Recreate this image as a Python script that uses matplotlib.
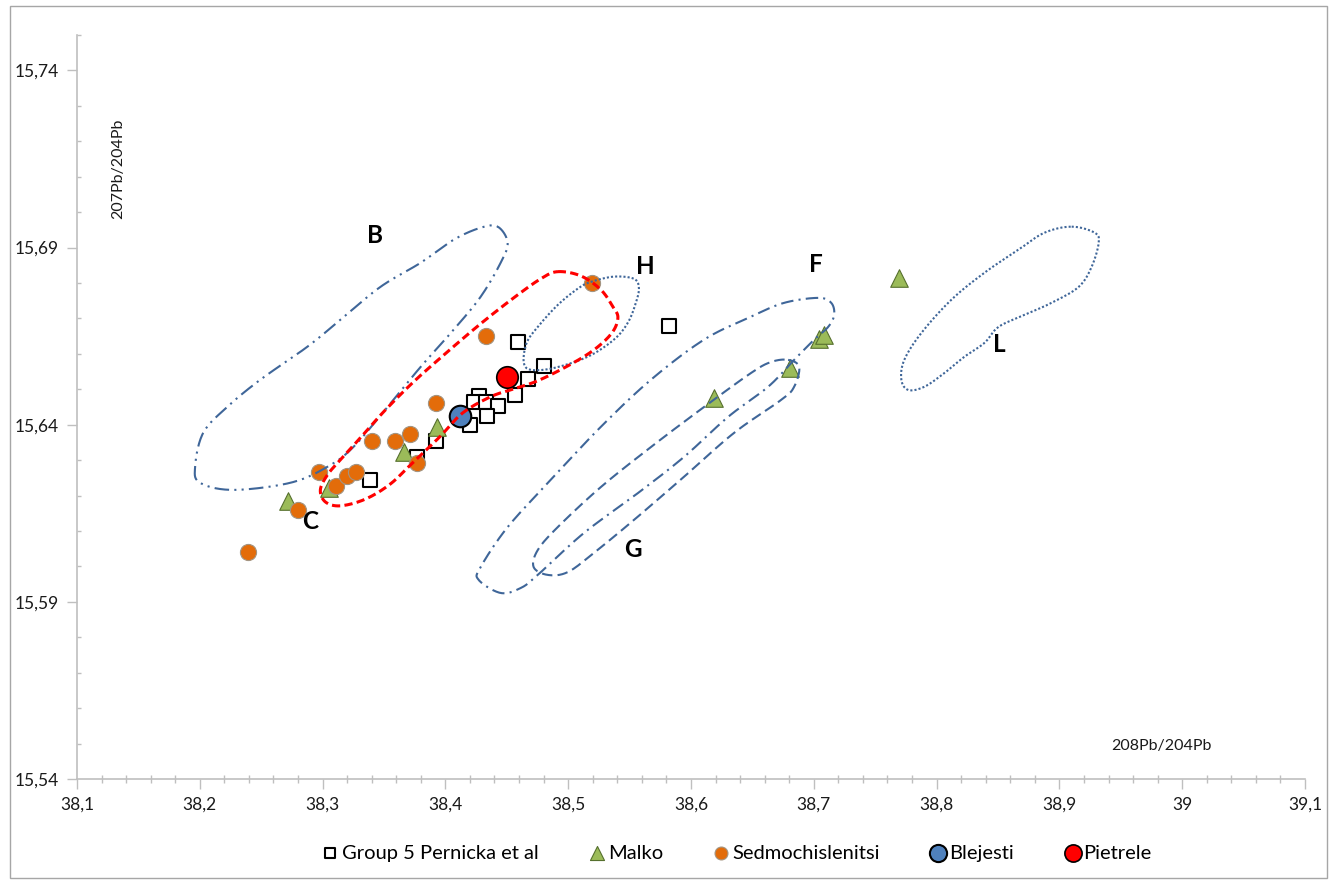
import numpy as np
import matplotlib.pyplot as plt
from matplotlib.ticker import MultipleLocator, FuncFormatter
from matplotlib.patches import Rectangle

plt.rcParams['font.family'] = ['Lato', 'DejaVu Sans']

# --- measured samples: 208Pb/204Pb (x), 207Pb/204Pb (y)
group5_x = [38.459, 38.582, 38.480, 38.467, 38.457, 38.427, 38.423, 38.433, 38.443, 38.434, 38.420, 38.392, 38.377, 38.339]
group5_y = [15.6634, 15.6679, 15.6566, 15.6529, 15.6484, 15.6481, 15.6464, 15.6464, 15.6453, 15.6425, 15.6399, 15.6354, 15.6309, 15.6244]

malko_x = [38.272, 38.305, 38.366, 38.393, 38.619, 38.681, 38.704, 38.708, 38.769]
malko_y = [15.6185, 15.6221, 15.6323, 15.6394, 15.6476, 15.6560, 15.6642, 15.6654, 15.6815]

sedmo_x = [38.239, 38.280, 38.297, 38.311, 38.320, 38.327, 38.340, 38.359, 38.371, 38.377, 38.392, 38.433, 38.519]
sedmo_y = [15.6041, 15.6159, 15.6267, 15.6227, 15.6255, 15.6267, 15.6354, 15.6354, 15.6374, 15.6292, 15.6462, 15.6651, 15.6801]

blejesti_x = [38.412]
blejesti_y = [15.6425]

pietrele_x = [38.450]
pietrele_y = [15.6535]

# --- ore field outlines (traced points, closed)
B_x = [38.4426, 38.4507, 38.445, 38.4287, 38.4067, 38.3798, 38.3529, 38.3251, 38.3039, 38.2737, 38.2272,
       38.2003, 38.1962, 38.2028, 38.2223, 38.2493, 38.2876, 38.3145, 38.3471, 38.3798, 38.4067, 38.4287]
B_y = [15.6959, 15.6914, 15.6857, 15.6761, 15.6668, 15.6563, 15.645, 15.6337, 15.6281, 15.6236, 15.6216,
       15.6236, 15.6281, 15.6377, 15.645, 15.6527, 15.662, 15.6696, 15.6789, 15.6857, 15.6922, 15.6956]

P_x = [38.4915, 38.5103, 38.5266, 38.5364, 38.5405, 38.5356, 38.5209, 38.4997, 38.4752, 38.4556, 38.4369, 38.414,
       38.3961, 38.3741, 38.3553, 38.3349, 38.3145, 38.3023, 38.2982, 38.3039, 38.3145, 38.3308, 38.3496, 38.3741,
       38.4018, 38.4287, 38.4556, 38.4777]
P_y = [15.6832, 15.6820, 15.6781, 15.6733, 15.6702, 15.6659, 15.6611, 15.6566, 15.6524, 15.6501, 15.6479, 15.6433,
       15.6368, 15.6295, 15.6233, 15.619, 15.6171, 15.6182, 15.6216, 15.6258, 15.6301, 15.6363, 15.6436, 15.6521,
       15.6606, 15.6685, 15.6758, 15.6812]

H_x = [38.5184, 38.5372, 38.5535, 38.5576, 38.5551, 38.5486, 38.5372, 38.516, 38.4883, 38.4695, 38.4638, 38.4662,
       38.4752, 38.4915, 38.5078]
H_y = [15.6803, 15.6818, 15.6812, 15.6786, 15.6744, 15.6688, 15.664, 15.6592, 15.656, 15.6555, 15.6577, 15.6631,
       15.6676, 15.6738, 15.6784]

F_x = [38.7036, 38.6759, 38.6489, 38.6106, 38.5674, 38.5266, 38.4858, 38.4507, 38.4287, 38.4271, 38.445, 38.4613,
       38.4752, 38.5127, 38.5568, 38.5943, 38.6302, 38.6628, 38.684, 38.7003, 38.7117, 38.7166, 38.7142]
F_y = [15.6758, 15.6744, 15.6705, 15.664, 15.6527, 15.6394, 15.6244, 15.6111, 15.5998, 15.5962, 15.5925, 15.5939,
       15.5976, 15.6094, 15.6207, 15.6309, 15.6422, 15.6507, 15.6583, 15.664, 15.6676, 15.671, 15.6744]

G_x = [38.6791, 38.6881, 38.684, 38.6734, 38.6351, 38.5943, 38.5535, 38.5209, 38.4997, 38.4834, 38.4719, 38.4752,
       38.4915, 38.5266, 38.5674, 38.6106, 38.6489, 38.6652]
G_y = [15.6583, 15.6563, 15.6507, 15.647, 15.6377, 15.6253, 15.6131, 15.6038, 15.5984, 15.5976, 15.5998, 15.6046,
       15.6111, 15.6224, 15.6337, 15.645, 15.6546, 15.6577]

L_x = [38.91, 38.9287, 38.932, 38.9263, 38.9157, 38.8936, 38.8716, 38.8504, 38.839, 38.8227, 38.8064, 38.79,
       38.777, 38.7713, 38.7737, 38.7876, 38.8121, 38.839, 38.8667, 38.8879]
L_y = [15.6959, 15.6942, 15.6914, 15.6846, 15.6789, 15.6744, 15.671, 15.6676, 15.6631, 15.6592, 15.6546, 15.6507,
       15.6498, 15.6527, 15.6583, 15.6659, 15.6753, 15.6829, 15.6894, 15.6942]

field_labels = ['B', 'C', 'H', 'F', 'G', 'L']
field_label_x = [38.343, 38.290, 38.563, 38.702, 38.553, 38.851]
field_label_y = [15.6933, 15.6128, 15.6846, 15.6851, 15.6049, 15.6625]


def closed_smooth(xs, ys, n=16):
    # smoothed closed line through the traced points (like Excel "smoothed line")
    p = np.column_stack([xs, ys])
    k = len(p)
    t = np.linspace(0, 1, n, endpoint=False)[:, None]
    segs = []
    for i in range(k):
        p0, p1, p2, p3 = p[i - 1], p[i], p[(i + 1) % k], p[(i + 2) % k]
        segs.append(0.5 * (2 * p1 + (p2 - p0) * t + (2 * p0 - 5 * p1 + 4 * p2 - p3) * t ** 2
                           + (3 * p1 - p0 - 3 * p2 + p3) * t ** 3))
    segs.append(p[:1])
    out = np.vstack(segs)
    return out[:, 0], out[:, 1]


fig = plt.figure(figsize=(13.36, 8.84), dpi=100)
ax = fig.add_axes([0.0576, 0.1188, 0.9192, 0.8416])

blue = '#3F6699'
outlines = [
    (B_x, B_y, blue, 1.5, (0, (7, 2.5, 1, 2.5, 1, 2.5))),
    (F_x, F_y, blue, 1.5, (0, (6, 2.5, 1, 2.5))),
    (G_x, G_y, blue, 1.5, (0, (5, 2.5))),
    (H_x, H_y, blue, 1.5, (0, (1, 1))),
    (L_x, L_y, blue, 1.5, (0, (1, 1))),
    (P_x, P_y, '#FF0000', 2.2, (0, (2.7, 1.4))),
]
for xs, ys, c, lw, ls in outlines:
    sx, sy = closed_smooth(xs, ys)
    ax.plot(sx, sy, color=c, lw=lw, linestyle=ls, zorder=4)

ax.scatter(group5_x, group5_y, s=90, marker='s', facecolor='white', edgecolor='black', linewidth=1.5,
           zorder=3, label='Group 5 Pernicka et al')
ax.scatter(malko_x, malko_y, s=160, marker='^', facecolor='#9BBB59', edgecolor='#56702E', linewidth=0.8,
           zorder=3, label='Malko')
ax.scatter(sedmo_x, sedmo_y, s=135, marker='o', facecolor='#E36C0A', edgecolor='#A39481', linewidth=0.8,
           zorder=3, label='Sedmochislenitsi')
ax.scatter(blejesti_x, blejesti_y, s=240, marker='o', facecolor='#4F81BD', edgecolor='black', linewidth=1.5,
           zorder=3, label='Blejesti')
ax.scatter(pietrele_x, pietrele_y, s=240, marker='o', facecolor='#FF0000', edgecolor='black', linewidth=1.2,
           zorder=3, label='Pietrele')

for lab, lx, ly in zip(field_labels, field_label_x, field_label_y):
    ax.text(lx, ly, lab, fontsize=17.5, fontweight='bold', ha='center', va='center', zorder=5)

ax.set_xlim(38.1, 39.1)
ax.set_ylim(15.54, 15.75)
ax.xaxis.set_major_locator(MultipleLocator(0.1))
ax.xaxis.set_minor_locator(MultipleLocator(0.02))
ax.yaxis.set_minor_locator(MultipleLocator(0.01))
ax.set_yticks([15.54, 15.59, 15.64, 15.69, 15.74])
ax.xaxis.set_major_formatter(FuncFormatter(lambda v, p: ('%g' % round(v, 2)).replace('.', ',')))
ax.yaxis.set_major_formatter(FuncFormatter(lambda v, p: ('%.2f' % v).replace('.', ',')))

for s in ['top', 'right']:
    ax.spines[s].set_visible(False)
for s in ['left', 'bottom']:
    ax.spines[s].set_color('#BFBFBF')
    ax.spines[s].set_linewidth(1.2)
ax.tick_params(which='major', direction='out', length=7, width=1, color='#BFBFBF', labelsize=12.5, pad=6,
               labelcolor='#1a1a1a')
ax.tick_params(axis='x', which='minor', direction='inout', length=6, width=1, color='#BFBFBF')
ax.tick_params(axis='y', which='minor', direction='in', length=3, width=1, color='#BFBFBF')

ax.text(0.0334, 0.82, '207Pb/204Pb', transform=ax.transAxes, rotation=90, ha='center', va='center',
        fontsize=11.5, color='#1a1a1a')
ax.text(0.8827, 0.0444, '208Pb/204Pb', transform=ax.transAxes, ha='center', va='center',
        fontsize=11.5, color='#1a1a1a')

leg = fig.legend(loc='center', bbox_to_anchor=(0.551, 0.035), ncol=5, frameon=False, fontsize=14.5,
                 handletextpad=0.05, columnspacing=2.4, markerscale=0.8, handlelength=1.0)

fig.add_artist(Rectangle((0.0075, 0.007), 0.9858, 0.986, transform=fig.transFigure, fill=False,
                         edgecolor='#A6A6A6', linewidth=1))

plt.savefig('out.png', dpi=100)
